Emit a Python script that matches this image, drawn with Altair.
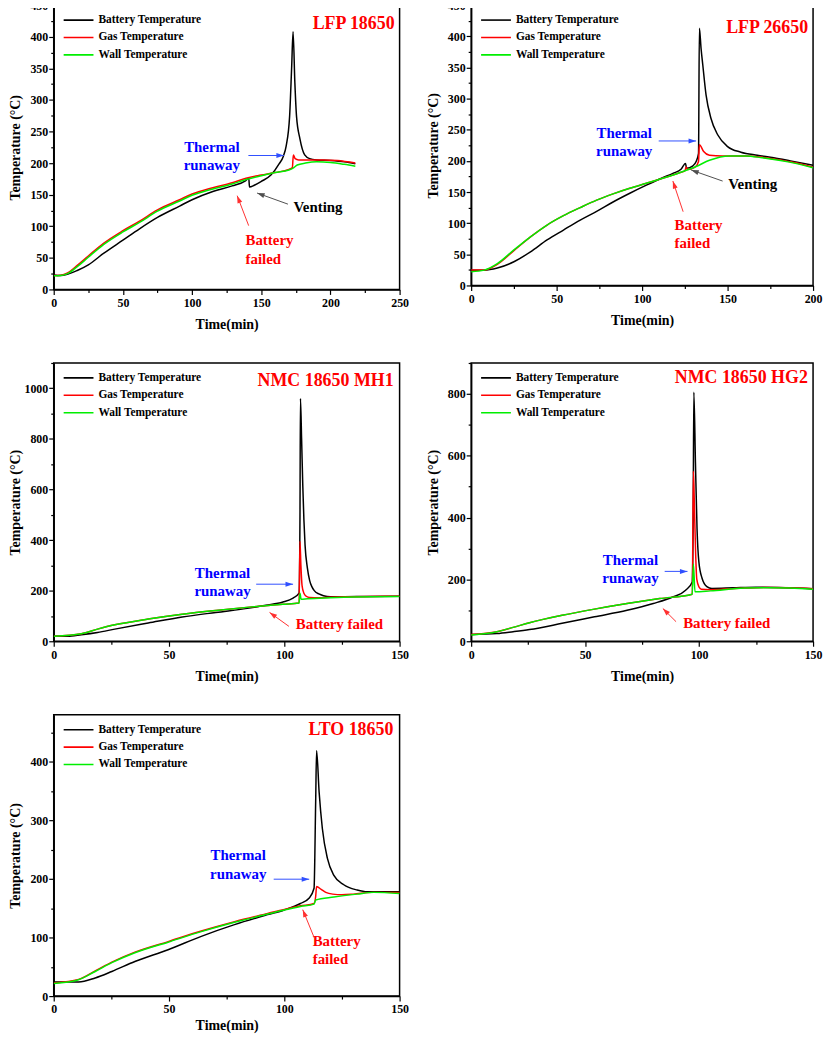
import math
import altair as alt
import pandas as pd

FONT = "Liberation Serif"
SERIES = ["Battery Temperature", "Gas Temperature", "Wall Temperature"]
COLORS = ["#000000", "#FF0000", "#00EE00"]

# ---------------- LFP 18650 ----------------
lfp18_bat_t = [0, 5, 10, 17, 25, 36, 50, 62, 75, 91, 100, 115, 129, 138.6, 141, 141.5, 145, 150, 157, 163, 166, 168, 170.5, 172, 173, 174.3, 175.5, 178, 181.4, 185, 190, 200, 210, 218]
lfp18_bat_T = [23, 22, 24, 30, 39, 57, 78, 96, 114, 132, 142, 155, 164, 172, 176, 162, 165, 171, 181, 199, 211, 227, 274, 353, 408, 327, 274, 238, 213, 207, 205, 204, 202, 199]
lfp18_gas_t = [0, 5, 10, 17, 25, 36, 50, 62, 75, 91, 100, 115, 129, 139, 150, 160, 170, 172.5, 173.2, 174.5, 177, 185, 195, 205, 218]
lfp18_gas_T = [22, 22.5, 26, 38, 53, 73, 93, 108, 126, 142, 151, 161, 169, 176, 181, 185, 190, 193, 213, 207, 205, 205, 205, 204, 200]
lfp18_wall_t = [0, 5, 10, 17, 25, 36, 50, 62, 75, 91, 100, 115, 129, 139, 150, 160, 170, 173, 176, 182, 190, 200, 210, 218]
lfp18_wall_T = [21.5, 22, 25, 36, 51, 71, 91, 106, 124, 140, 149, 159, 167, 174, 180, 185, 189, 192, 197, 200, 202, 201, 198, 195]

# ---------------- LFP 26650 ----------------
lfp26_bat_t = [0, 7.6, 15.3, 25, 34.7, 44.4, 54, 63.8, 73.4, 83, 92.8, 102.5, 112, 118, 122.9, 125.4, 126, 129.7, 131.6, 133.0, 133.5, 134.5, 135.5, 137.4, 140.3, 144.2, 150, 157.8, 167.4, 177, 186.8, 200]
lfp26_bat_T = [24.6, 24.6, 28, 38, 54, 73, 89, 105, 119, 134, 148, 161, 173, 180, 187, 196, 188, 192, 199, 212, 413, 380, 354, 306, 268, 242, 223, 214, 209, 205, 200, 193]
lfp26_gas_t = [0, 7.6, 15.3, 25, 34.7, 44.4, 54, 63.8, 73.4, 83, 92.8, 102.5, 112, 121.9, 125, 125.8, 126.5, 131, 133, 133.5, 136, 139.4, 147, 160.6, 170.3, 180, 189.7, 200]
lfp26_gas_T = [25, 25, 34, 56, 78, 97, 112, 125, 137, 147, 156, 164, 172, 181, 184, 190, 186, 190, 199, 226, 215, 209, 208, 208, 206, 202, 197, 190]
lfp26_wall_t = [0, 7.6, 15.3, 25, 34.7, 44.4, 54, 63.8, 73.4, 83, 92.8, 102.5, 112, 121.9, 131.6, 139.4, 151, 160.6, 170.3, 180, 189.7, 200]
lfp26_wall_T = [22, 24.6, 35, 57, 78, 97, 112, 125, 137, 147, 156, 164, 172, 181, 191, 201, 208, 208, 205, 201, 196, 189]

# ---------------- NMC 18650 MH1 ----------------
mh1_bat_t = [0, 6, 12, 19, 26.5, 41, 55.7, 70.3, 84.8, 92, 99.4, 103.8, 106.4, 106.8, 107, 107.5, 108, 108.5, 109, 110, 111, 112, 113, 115, 117, 120, 125, 135, 150]
mh1_bat_T = [20, 20, 26, 35, 48, 72, 96, 114, 131, 142, 155, 171, 190, 500, 960, 800, 620, 480, 380, 290, 240, 215, 200, 187, 180, 176, 176, 177, 178]
mh1_gas_t = [0, 12, 19, 26.5, 41, 55.7, 70.3, 84.8, 99.4, 106.4, 106.8, 107.2, 107.7, 108.5, 109.5, 111, 115, 120, 130, 150]
mh1_gas_T = [20, 30, 48, 65, 88, 107, 122, 135, 146, 151, 395, 300, 220, 190, 178, 173, 172, 174, 176, 178]
mh1_wall_t = [0, 12, 19, 26.5, 41, 55.7, 70.3, 84.8, 99.4, 106.4, 106.8, 107.3, 110, 120, 130, 150]
mh1_wall_T = [20, 30, 48, 65, 88, 107, 122, 135, 146, 151, 190, 166, 168, 172, 175, 177]

# ---------------- NMC 18650 HG2 ----------------
hg2_bat_t = [0, 11.3, 18.4, 25.6, 39.9, 54.1, 68.4, 79.9, 88.4, 94.1, 97, 97.4, 97.7, 98.4, 99.1, 99.9, 101.3, 103.4, 105.6, 115, 125, 135, 150]
hg2_bat_T = [22, 25, 31, 38, 58, 79, 100, 122, 143, 165, 192, 400, 805, 578, 364, 257, 204, 177, 171, 173, 175, 174, 170]
hg2_gas_t = [0, 11.3, 18.4, 25.6, 39.9, 54.1, 68.4, 82.7, 97, 97.5, 98, 98.5, 99, 100, 101, 105, 120, 130, 140, 150]
hg2_gas_T = [22, 31, 45, 60, 84, 104, 122, 138, 152, 550, 420, 280, 200, 175, 168, 167, 172, 174, 173, 170]
hg2_wall_t = [0, 11.3, 18.4, 25.6, 39.9, 54.1, 68.4, 82.7, 97, 97.5, 98.2, 105, 120, 130, 140, 150]
hg2_wall_T = [20, 31, 45, 60, 84, 104, 122, 138, 152, 250, 160, 163, 172, 173, 172, 168]

# ---------------- LTO 18650 ----------------
lto_bat_t = [0, 10.8, 18, 25.2, 35.2, 49.6, 64, 78.4, 92.8, 100, 107, 110.7, 112.9, 113.6, 114, 115.1, 116.5, 118.7, 121.5, 125.8, 131.6, 135.9, 150]
lto_bat_T = [24, 24, 31, 42, 59, 79, 102, 122, 139, 147, 158, 167, 184, 331, 419, 348, 286, 235, 206, 190, 181, 178, 178]
lto_gas_t = [0, 10.8, 18, 25.2, 35.2, 49.6, 64, 78.4, 92.8, 100, 107, 112.9, 113.6, 114, 116, 118, 121, 125, 130, 138, 150]
lto_gas_T = [22.5, 28.5, 43, 58, 75, 93, 111, 127, 141, 148, 154, 158, 170, 187, 182, 177, 174, 173, 174, 177, 177]
lto_wall_t = [0, 10.8, 18, 25.2, 35.2, 49.6, 64, 78.4, 92.8, 100, 107, 112.9, 113.6, 121.5, 131.6, 138.8, 150]
lto_wall_T = [21.5, 28, 42, 57, 74, 92, 110, 126, 140, 147, 153, 157, 164, 169, 174, 177, 175]

# ---------------- annotations (text, t, T) ----------------
titles = ["LFP 18650", "LFP 26650", "NMC 18650 MH1", "NMC 18650 HG2", "LTO 18650"]
title_pos = [(246.4, 412), (197.1, 406), (147.4, 1010), (147.7, 834), (147.3, 445)]
runaway_pos = [(114.3, 217, 189), (89.5, 237, 208), (73.2, 249, 180), (69.9, 247, 189.5), (80, 232, 199.5)]
runaway_arrows = [(140.7, 212, 166.4, 212), (109.7, 232, 131.6, 232), (87.8, 225.6, 103.8, 225.6), (84.9, 226, 94.9, 226), (95.4, 199.5, 110.8, 199.5)]
failed_lines = [["Battery", "failed"], ["Battery", "failed"], ["Battery failed"], ["Battery failed"], ["Battery", "failed"]]
failed_pos = [(138.6, [70.8, 41]), (119, [88.9, 60.6]), (105, [48.4]), (93, [41.8]), (112.3, [85.3, 54.2])]
failed_arrows = [(140.9, 101, 132.6, 148.4), (124, 118.4, 118, 167.6), (102, 59, 93.6, 114), (89.9, 63.3, 84.1, 106), (113, 99.4, 108, 147.5)]
venting_pos = [(191, 122.7), (164.7, 154.8), None, None, None]
venting_arrows = [(169.3, 135, 147, 152.6), (147.1, 167.6, 128.7, 185.3), None, None, None]

ARROW_PATH = "M0,0L0.33,1L-0.33,1Z"


def make_panel(idx, series, xmax, xstep, ymax, ystep, w, h, xtitle_pad=9):
    rows = []
    for name, ts, Ts in series:
        for i, (a, b) in enumerate(zip(ts, Ts)):
            rows.append({"series": name, "t": a, "T": b, "i": i})
    df = pd.DataFrame(rows)

    xs = alt.Scale(domain=[0, xmax], nice=False, zero=False)
    ys = alt.Scale(domain=[0, ymax], nice=False, zero=False)
    xaxis = alt.Axis(
        values=list(range(0, xmax + 1, xstep // 2)),
        labelExpr=f"datum.value % {xstep} === 0 ? format(datum.value, 'd') : ''",
        tickSize={"condition": {"test": f"datum.value % {xstep} === 0", "value": 5}, "value": 3},
        title="Time(min)", labelFlush=False, labelOverlap=False,
        labelPadding=3, titlePadding=xtitle_pad, grid=False,
    )
    yaxis = alt.Axis(
        values=list(range(0, ymax + 1, ystep // 2)),
        labelExpr=f"datum.value % {ystep} === 0 ? format(datum.value, 'd') : ''",
        tickSize={"condition": {"test": f"datum.value % {ystep} === 0", "value": 5}, "value": 3},
        title="Temperature (°C)", labelOverlap=False, labelPadding=1,
        titlePadding=7, minExtent=24, maxExtent=24, grid=False,
    )
    X = alt.X("t:Q", scale=xs, axis=xaxis)
    Y = alt.Y("T:Q", scale=ys, axis=yaxis)
    X2 = alt.X2("t2:Q")
    Y2 = alt.Y2("T2:Q")

    lines = alt.Chart(df).mark_line(strokeWidth=1.5, interpolate="monotone", clip=True).encode(
        x=X, y=Y,
        color=alt.Color("series:N", scale=alt.Scale(domain=SERIES, range=COLORS),
                        legend=alt.Legend(orient="top-left", title=None, symbolType="stroke",
                                          symbolSize=900, symbolStrokeWidth=1.6,
                                          labelFont=FONT, labelFontWeight="bold", labelFontSize=11.5,
                                          labelColor="black", offset=9, padding=0, clipHeight=12,
                                          rowPadding=5.5, labelOffset=4, labelLimit=300)),
        order=alt.Order("i:Q"),
    )
    layers = [lines]

    def text(s, t, T, color, size, align):
        d = pd.DataFrame({"t": [t], "T": [T], "s": [s]})
        return alt.Chart(d).mark_text(font=FONT, fontWeight="bold", fontSize=size, color=color,
                                      align=align, baseline="alphabetic").encode(x=X, y=Y, text="s:N")

    def arrow(a, color):
        t1, T1, t2, T2 = a
        dx = (t2 - t1) * w / xmax
        dy = -(T2 - T1) * h / ymax
        ang = math.degrees(math.atan2(dx, -dy)) % 360
        d = pd.DataFrame({"t": [t1], "T": [T1], "t2": [t2], "T2": [T2]})
        rule = alt.Chart(d).mark_rule(color=color, strokeWidth=1).encode(x=X, y=Y, x2=X2, y2=Y2)
        hd = pd.DataFrame({"t": [t2], "T": [T2]})
        head = alt.Chart(hd).mark_point(shape=ARROW_PATH, filled=True, size=230, color=color,
                                        opacity=1, angle=ang, strokeWidth=0).encode(x=X, y=Y)
        return [rule, head]

    tt, tT = title_pos[idx]
    layers.append(text(titles[idx], tt, tT, "#FF0000", 18, "right"))
    rt, rT1, rT2 = runaway_pos[idx]
    layers.append(text("Thermal", rt, rT1, "#0000FF", 15, "center"))
    layers.append(text("runaway", rt, rT2, "#0000FF", 15, "center"))
    layers += arrow(runaway_arrows[idx], "#3050FF")
    ft, fTs = failed_pos[idx]
    for s, fT in zip(failed_lines[idx], fTs):
        layers.append(text(s, ft, fT, "#FF0000", 15, "left"))
    layers += arrow(failed_arrows[idx], "#FF3030")
    if venting_pos[idx] is not None:
        vt, vT = venting_pos[idx]
        layers.append(text("Venting", vt, vT, "#000000", 15, "center"))
        layers += arrow(venting_arrows[idx], "#505050")

    return alt.layer(*layers).properties(width=w, height=h)


p1 = make_panel(0, [(SERIES[0], lfp18_bat_t, lfp18_bat_T), (SERIES[1], lfp18_gas_t, lfp18_gas_T), (SERIES[2], lfp18_wall_t, lfp18_wall_T)], 250, 50, 450, 50, 348, 286)
p2 = make_panel(1, [(SERIES[0], lfp26_bat_t, lfp26_bat_T), (SERIES[1], lfp26_gas_t, lfp26_gas_T), (SERIES[2], lfp26_wall_t, lfp26_wall_T)], 200, 50, 450, 50, 344, 282)
p3 = make_panel(2, [(SERIES[0], mh1_bat_t, mh1_bat_T), (SERIES[1], mh1_gas_t, mh1_gas_T), (SERIES[2], mh1_wall_t, mh1_wall_T)], 150, 50, 1100, 200, 348, 280)
p4 = make_panel(3, [(SERIES[0], hg2_bat_t, hg2_bat_T), (SERIES[1], hg2_gas_t, hg2_gas_T), (SERIES[2], hg2_wall_t, hg2_wall_T)], 150, 50, 900, 200, 344, 280)
p5 = make_panel(4, [(SERIES[0], lto_bat_t, lto_bat_T), (SERIES[1], lto_gas_t, lto_gas_T), (SERIES[2], lto_wall_t, lto_wall_T)], 150, 50, 480, 100, 348, 283, xtitle_pad=4)

chart = (
    alt.concat(p1, p2, p3, p4, p5, columns=2, spacing={"row": 74, "column": 72},
               bounds="flush", align="each")
    .resolve_scale(color="independent")
    .properties(padding={"left": 0, "top": -13, "right": 0, "bottom": 0}, background="white")
    .configure_axis(labelFont=FONT, labelFontWeight="bold", labelFontSize=12, labelColor="black",
                    titleFont=FONT, titleFontWeight="bold", titleFontSize=14, titleColor="black",
                    domainColor="black", domainWidth=1.5, tickColor="black", tickWidth=1.2, grid=False)
    .configure_view(stroke="black", strokeWidth=1.5)
)

chart.save("out.html", embed_options={"renderer": "svg", "actions": False})
